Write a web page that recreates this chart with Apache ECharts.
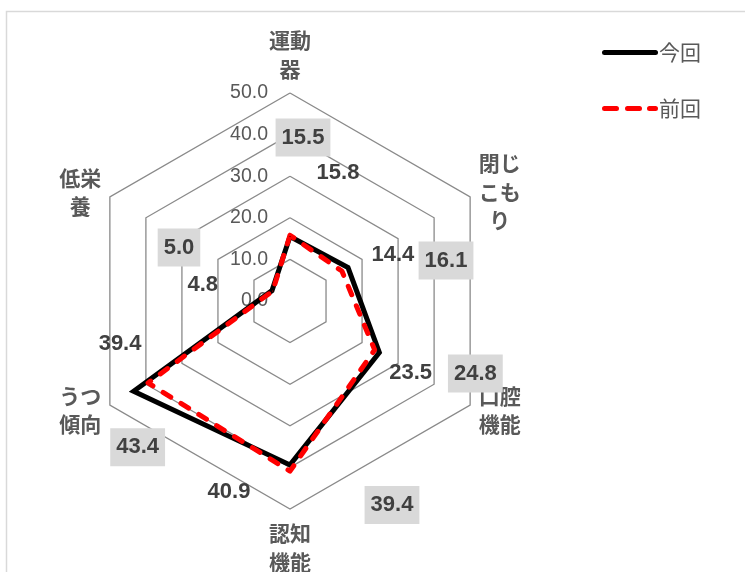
<!DOCTYPE html>
<html>
<head>
<meta charset="utf-8">
<script src="https://cdn.jsdelivr.net/npm/echarts@6/dist/echarts.min.js"></script>
<style>
  html, body { margin: 0; padding: 0; background: #ffffff; }
  #main { width: 745px; height: 572px; }
</style>
</head>
<body>
<div id="main"></div>
<script>
// Axes, listed clockwise starting from the top (line breaks as displayed)
const categories = ['運動\n器', '閉じ\nこも\nり', '口腔\n機能', '認知\n機能', 'うつ\n傾向', '低栄\n養'];
const currentValues = [15.5, 16.1, 24.8, 39.4, 43.4, 5.0];   // 今回
const previousValues = [15.8, 14.4, 23.5, 40.9, 39.4, 4.8];  // 前回
const seriesNames = ['今回', '前回'];
const axisMax = 50;
const axisStep = 10;

// Layout / style settings
const CENTER = [290, 301];
const RADIUS = 208;
const GRAY_TEXT = '#595959';
const CJK = "'Noto Sans CJK JP', 'Noto Sans', sans-serif";
const LATIN = "'Liberation Sans', Arial, sans-serif";

// Where each value label sits relative to its vertex (clockwise from top)
const currentLabelOffsets = [[13, -99], [98, -7], [96, 21], [102, 40], [4, 56], [-93, -43]];
const previousLabelOffsets = [[48, -62], [51, -16], [36, 23], [-61, 21], [-28, -39], [-70, -6]];

// ECharts lays out radar indicators counter-clockwise from the top
function toRadarOrder(arr) {
  return [arr[0]].concat(arr.slice(1).reverse());
}

const indicators = toRadarOrder(categories).map((name, i) => {
  const ind = { name: name, min: 0, max: axisMax };
  if (i === 0) ind.axisLabel = { show: true };
  return ind;
});

function placeLabel(p) {
  const offsets = p.dataIndex === 0 ? currentLabelOffsets : previousLabelOffsets;
  const hx = p.rect.x + p.rect.width / 2;
  const hy = p.rect.y + p.rect.height / 2;
  let deg = Math.atan2(hx - CENTER[0], CENTER[1] - hy) * 180 / Math.PI;
  if (deg < 0) deg += 360;
  const i = Math.round(deg / 60) % 6;
  return { x: hx + offsets[i][0], y: hy + offsets[i][1], align: 'center', verticalAlign: 'middle' };
}

const valueFormatter = p => (typeof p.value === 'number' ? p.value.toFixed(1) : '');

const solidIcon = 'path://M2.5,0H53.5A2.5,2.5,0,0,1,53.5,5H2.5A2.5,2.5,0,0,1,2.5,0Z';
const dashIcon = 'path://M2.5,0H14.5A2.5,2.5,0,0,1,14.5,5H2.5A2.5,2.5,0,0,1,2.5,0Z' +
  'M25.5,0H37.5A2.5,2.5,0,0,1,37.5,5H25.5A2.5,2.5,0,0,1,25.5,0Z' +
  'M47.5,0H53.5A2.5,2.5,0,0,1,53.5,5H47.5A2.5,2.5,0,0,1,47.5,0Z';

const chart = echarts.init(document.getElementById('main'), null, { renderer: 'canvas' });

chart.setOption({
  animation: false,
  backgroundColor: '#ffffff',
  graphic: [{
    type: 'rect',
    shape: { x: 6.5, y: 11.5, width: 900, height: 700 },
    style: { fill: 'none', stroke: '#d9d9d9', lineWidth: 1.5 },
    silent: true
  }],
  legend: {
    orient: 'vertical',
    left: 597,
    top: 37,
    itemWidth: 56,
    itemHeight: 5,
    itemGap: 35,
    selectedMode: false,
    itemStyle: { borderWidth: 0 },
    textStyle: { color: GRAY_TEXT, fontSize: 21, fontFamily: CJK, padding: [0, 0, 0, -4] },
    data: [
      { name: seriesNames[0], icon: solidIcon },
      { name: seriesNames[1], icon: dashIcon }
    ]
  },
  radar: {
    center: CENTER,
    radius: RADIUS,
    shape: 'polygon',
    splitNumber: axisMax / axisStep,
    nameGap: 10,
    indicator: indicators,
    axisName: {
      color: GRAY_TEXT,
      formatter: v => v.split('\n').map(s => '{n|' + s + '}').join('\n'),
      rich: {
        n: {
          align: 'center',
          color: GRAY_TEXT,
          fontSize: 21,
          fontWeight: 'bold',
          lineHeight: 28.5,
          fontFamily: CJK
        }
      }
    },
    axisLine: { show: false },
    axisTick: { show: false },
    splitArea: { show: false },
    splitLine: { lineStyle: { color: '#8a8a8a', width: 1.3 } },
    axisLabel: {
      show: false,
      color: GRAY_TEXT,
      fontSize: 19.5,
      fontFamily: LATIN,
      margin: 22,
      padding: [5, 0, 0, 0],
      formatter: v => Number(v).toFixed(1)
    }
  },
  series: [{
    type: 'radar',
    symbol: 'circle',
    symbolSize: 1,
    emphasis: { disabled: true },
    labelLayout: placeLabel,
    label: {
      show: true,
      position: 'inside',
      formatter: valueFormatter,
      color: '#404040',
      fontSize: 22,
      fontWeight: 'bold',
      fontFamily: LATIN
    },
    data: [
      {
        name: seriesNames[0],
        value: toRadarOrder(currentValues),
        itemStyle: { color: '#000000' },
        lineStyle: { color: '#000000', width: 5, type: 'solid', join: 'miter' },
        label: { backgroundColor: '#d9d9d9', padding: [8, 6, 8, 6] }
      },
      {
        name: seriesNames[1],
        value: toRadarOrder(previousValues),
        itemStyle: { color: '#ff0000' },
        lineStyle: { color: '#ff0000', width: 5, type: [9, 12], cap: 'round', join: 'round' }
      }
    ]
  }]
});
</script>
</body>
</html>
